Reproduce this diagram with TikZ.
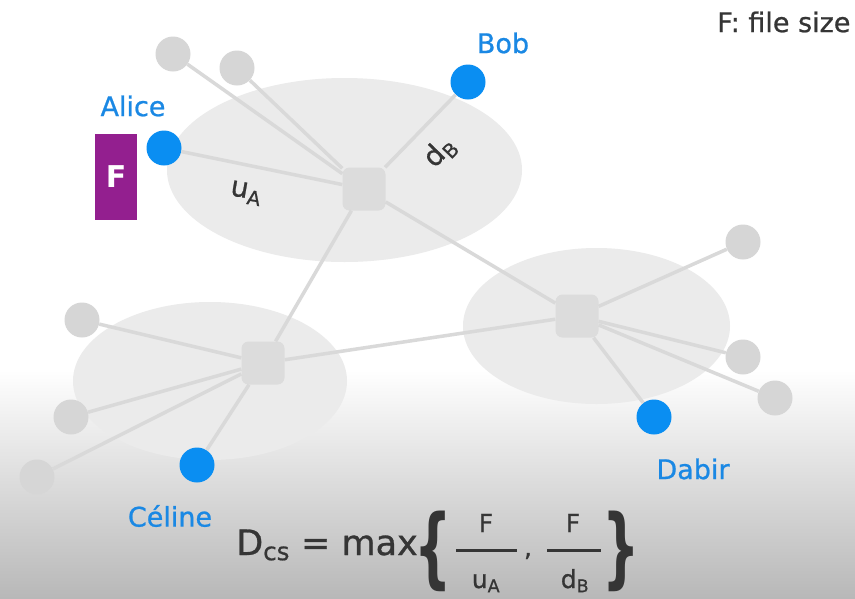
\documentclass[tikz,border=0pt]{standalone}
\usepackage{fontspec}
\setmainfont{DejaVu Sans}[FakeBold=0.8]
\newfontfamily\boldface{DejaVu Sans Bold}
\definecolor{ellfill}{HTML}{EBEBEB}
\definecolor{linegray}{HTML}{D9D9D9}
\definecolor{nodegray}{HTML}{D6D6D6}
\definecolor{hubgray}{HTML}{DCDCDC}
\definecolor{peerblue}{HTML}{0A8EF2}
\definecolor{labelblue}{HTML}{1A88E4}
\definecolor{filepurple}{HTML}{931F8F}
\definecolor{textdark}{HTML}{353535}
\definecolor{bggray}{HTML}{B8B8B8}
\begin{document}
\begin{tikzpicture}[x=1pt,y=-1pt,
  hubbox/.style={rectangle,rounded corners=7pt,fill=hubgray,minimum size=43pt,inner sep=0pt},
  peerdot/.style={circle,fill=nodegray,minimum size=35pt,inner sep=0pt},
  userdot/.style={circle,fill=peerblue,minimum size=35pt,inner sep=0pt},
  linkline/.style={draw=linegray,line width=3.5pt},
  whoname/.style={text=labelblue,font=\fontsize{27}{30}\selectfont},
  ratelbl/.style={text=textdark,font=\fontsize{28}{30}\selectfont},
  fracpart/.style={text=textdark,font=\fontsize{25}{28}\selectfont,inner sep=0pt},
  fracbar/.style={draw=textdark,line width=3pt},
  bigtext/.style={text=textdark,font=\fontsize{35}{40}\selectfont,inner sep=0pt}]
\useasboundingbox (0,0) rectangle (855,598);
\fill[white] (0,0) rectangle (855,598);
\shade[top color=white,bottom color=bggray] (0,370) rectangle (855,598);
% ellipses (groups)
\fill[ellfill] (344.5,170) ellipse [x radius=177.5,y radius=92];
\fill[ellfill] (210,381) ellipse [x radius=137,y radius=79];
\fill[ellfill] (596.5,326) ellipse [x radius=133.5,y radius=78];
% hubs
\node[hubbox] (hubA) at (364,189) {};
\node[hubbox] (hubC) at (263,363) {};
\node[hubbox] (hubD) at (577,316) {};
% peers
\node[userdot] (alice) at (164,148) {};
\node[userdot] (bob) at (468,82) {};
\node[peerdot] (g1) at (173,54) {};
\node[peerdot] (g2) at (237,68) {};
\node[peerdot] (c1) at (82,320) {};
\node[peerdot] (c2) at (71,417) {};
\node[peerdot] (c3) at (37,477) {};
\node[userdot] (celine) at (197,465) {};
\node[peerdot] (d1) at (743,242) {};
\node[peerdot] (d2) at (743,357) {};
\node[peerdot] (d3) at (775,398) {};
\node[userdot] (dabir) at (654,417) {};
% links
\path[linkline] (hubA) -- (alice);
\path[linkline] (hubA) -- (bob);
\path[linkline] (hubA) -- (g1);
\path[linkline] (hubA) -- (g2);
\path[linkline] (hubA) -- (hubC);
\path[linkline] (hubA) -- (hubD);
\path[linkline] (hubC) -- (c1);
\path[linkline] (hubC) -- (c2);
\path[linkline] (hubC) -- (c3);
\path[linkline] (hubC) -- (celine);
\path[linkline] (hubC) -- (hubD);
\path[linkline] (hubD) -- (d1);
\path[linkline] (hubD) -- (d2);
\path[linkline] (hubD) -- (d3);
\path[linkline] (hubD) -- (dabir);
% labels
\node[whoname] (alicel) at (133,106) {Alice};
\node[whoname] (bobl) at (503,43) {Bob};
\node[whoname] (celinel) at (170,516) {Céline};
\node[whoname] (dabirl) at (693,469) {Dabir};
\node[ratelbl,rotate=-10,inner sep=0pt] (ua) at (246,193) {u\textsubscript{A}};
\node[ratelbl,rotate=46,inner sep=0pt] (db) at (440,152) {d\textsubscript{B}};
% file
\node[rectangle,fill=filepurple,minimum width=42pt,minimum height=86pt,inner sep=0pt,
  text=white,font=\fontsize{30}{32}\boldface] (file) at (116,177) {F};
\node[anchor=east,text=textdark,font=\fontsize{27}{30}\selectfont] (legend) at (854,22) {F: file size};
% formula
\node[bigtext,anchor=base east] (dcs) at (418,555) {D\textsubscript{cs} = max};
\node[bigtext] (lbrace) at (433,551) {\scalebox{1.5}[2.5]{\boldface\{}};
\node[fracpart] (num1) at (486,523) {F};
\node[fracpart,anchor=base] (den1) at (486,588) {u\textsubscript{A}};
\coordinate (bar1l) at (456,550);
\coordinate (bar1r) at (517,550);
\draw[fracbar] (bar1l) -- (bar1r);
\node[fracpart] (comma) at (528,556) {,};
\node[fracpart] (num2) at (573,523) {F};
\node[fracpart,anchor=base] (den2) at (575,588) {d\textsubscript{B}};
\coordinate (bar2l) at (547,550);
\coordinate (bar2r) at (601,550);
\draw[fracbar] (bar2l) -- (bar2r);
\node[bigtext] (rbrace) at (621,551) {\scalebox{1.5}[2.5]{\boldface\}}};
\end{tikzpicture}
\end{document}
